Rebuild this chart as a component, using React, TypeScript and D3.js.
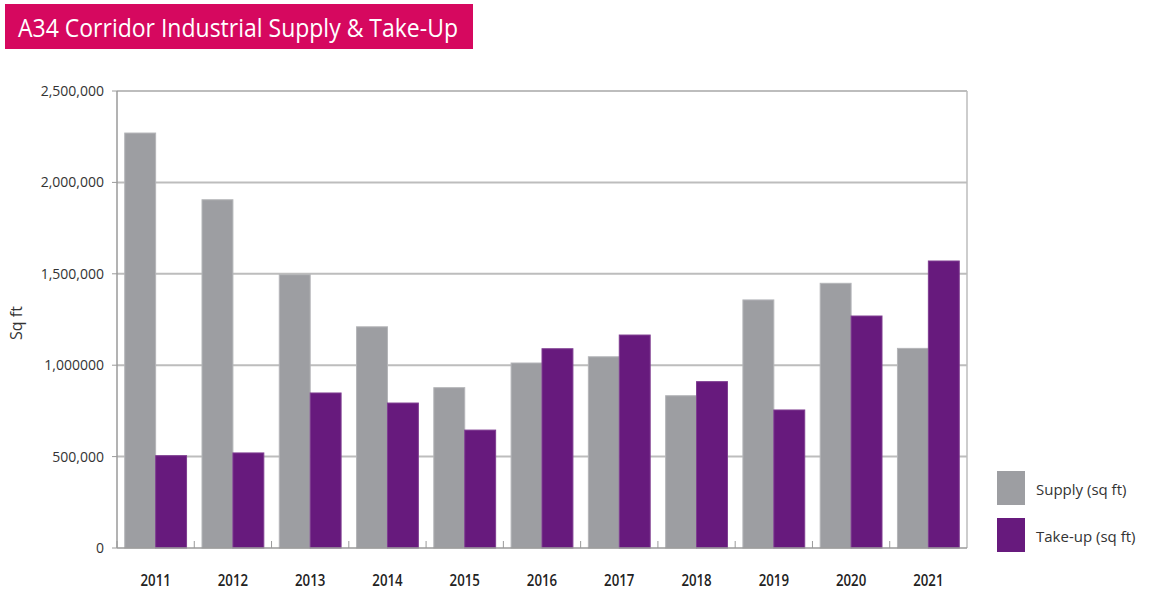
import React from "react";
import * as d3 from "d3";

const years = ["2011","2012","2013","2014","2015","2016","2017","2018","2019","2020","2021"];
const supply = [2270000,1905000,1495000,1210000,877000,1012000,1046000,833000,1357000,1448000,1092000];
const takeUp = [505000,520000,848000,793000,645000,1090000,1165000,910000,755000,1269000,1570000];
const yTicks = [0,500000,1000000,1500000,2000000,2500000];
const yTickLabels = ["0","500,000","1,000000","1,500,000","2,000,000","2,500,000"];
const seriesNames = ["Supply (sq ft)","Take-up (sq ft)"];
const colors = ["#9d9ea2","#671a7d"];

export default function App() {
  const W = 1157, H = 593;
  const left = 117, right = 967, top = 91, bottom = 548;
  const x = d3.scaleBand<string>().domain(years).range([left, right]).paddingInner(0.2).paddingOuter(0.1);
  const x0 = d3.scaleBand<string>().domain(years).range([left, right]);
  const sub = d3.scaleBand<number>().domain([0,1]).range([0, x.bandwidth()]);
  const y = d3.scaleLinear().domain([0,2500000]).range([bottom, top]);
  const font = "'Open Sans',sans-serif";
  const series = [supply, takeUp];
  return (
    <svg width={W} height={H} style={{position:"absolute",left:0,top:0,background:"#fff"}}>
      <rect x={5} y={4} width={468} height={45} fill="#d6085f" />
      <text x={18} y={37} fill="#fff" fontFamily={font} fontSize={26} textLength={440} lengthAdjust="spacingAndGlyphs">A34 Corridor Industrial Supply &amp; Take-Up</text>
      {yTicks.slice(1).map((t,i)=>(
        <line key={i} x1={left} x2={right} y1={y(t)} y2={y(t)} stroke="#bdbdbd" strokeWidth={2} />
      ))}
      <line x1={left} x2={left} y1={top} y2={bottom} stroke="#9a9a9a" strokeWidth={1.5} />
      <line x1={right} x2={right} y1={top} y2={bottom} stroke="#bdbdbd" strokeWidth={1.5} />
      {yTicks.map((t,i)=>(
        <g key={i}>
          <line x1={left-5} x2={left} y1={y(t)} y2={y(t)} stroke="#9a9a9a" strokeWidth={1} />
          <text x={104} y={y(t)+5} textAnchor="end" fontFamily={font} fontSize={14} fill="#333">{yTickLabels[i]}</text>
        </g>
      ))}
      {years.map((yr,i)=>series.map((s,j)=>(
        <rect key={yr+j} x={(x(yr) as number)+(sub(j) as number)} y={y(s[i])} width={sub.bandwidth()} height={bottom-y(s[i])}
          fill={colors[j]} stroke={j===0?"#b4b5b8":"#7e3c90"} strokeWidth={1} />
      )))}
      <line x1={left} x2={right} y1={bottom} y2={bottom} stroke="#9a9a9a" strokeWidth={1.5} />
      {years.map((yr,i)=>(
        <line key={i} x1={(x0(yr) as number)} x2={(x0(yr) as number)} y1={bottom} y2={bottom-7} stroke="#9a9a9a" strokeWidth={1} />
      ))}
      {years.map((yr)=>(
        <text key={yr} transform={`translate(${(x0(yr) as number)+x0.bandwidth()/2},586) scale(0.78,1)`} textAnchor="middle" fontFamily={font} fontSize={17} fontWeight={600} fill="#222">{yr}</text>
      ))}
      <text transform="translate(22,323) rotate(-90)" textAnchor="middle" fontFamily={font} fontSize={16} fill="#333">Sq ft</text>
      {seriesNames.map((n,i)=>(
        <g key={n}>
          <rect x={997} y={471+i*47} width={28} height={34} fill={colors[i]} />
          <text x={1036} y={495+i*47} fontFamily={font} fontSize={15} fill="#333">{n}</text>
        </g>
      ))}
    </svg>
  );
}
